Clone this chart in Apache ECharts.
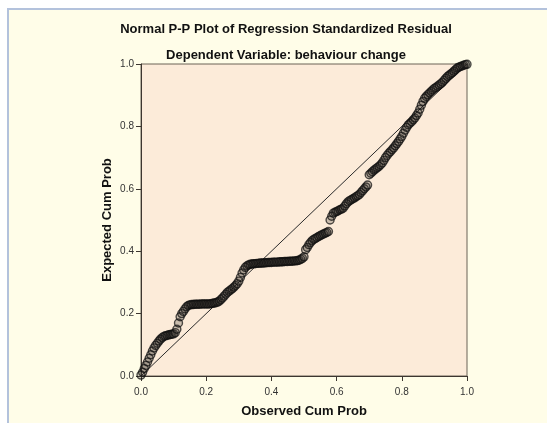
<!DOCTYPE html>
<html>
<head>
<meta charset="utf-8">
<script src="https://cdn.jsdelivr.net/npm/echarts@6/dist/echarts.min.js"></script>
<style>
  html, body { margin: 0; padding: 0; background: #ffffff; }
</style>
</head>
<body>
<div id="main" style="width: 547px;height:423px"></div>
<script>
// observed cum prob (x) and expected cum prob (y)
const observed = [
  0.000, 0.005, 0.010, 0.015, 0.020, 0.025, 0.030, 0.035, 0.040, 0.045,
  0.050, 0.055, 0.060, 0.065, 0.070, 0.075, 0.080, 0.085, 0.090, 0.095,
  0.100, 0.105, 0.110, 0.115, 0.120, 0.125, 0.130, 0.135, 0.140, 0.145,
  0.150, 0.155, 0.160, 0.165, 0.170, 0.175, 0.180, 0.185, 0.190, 0.195,
  0.200, 0.205, 0.210, 0.215, 0.220, 0.225, 0.230, 0.235, 0.240, 0.245,
  0.250, 0.255, 0.260, 0.265, 0.270, 0.275, 0.280, 0.285, 0.290, 0.295,
  0.300, 0.305, 0.310, 0.315, 0.320, 0.325, 0.330, 0.335, 0.340, 0.345,
  0.350, 0.355, 0.360, 0.365, 0.370, 0.375, 0.380, 0.385, 0.390, 0.395,
  0.400, 0.405, 0.410, 0.415, 0.420, 0.425, 0.430, 0.435, 0.440, 0.445,
  0.450, 0.455, 0.460, 0.465, 0.470, 0.475, 0.480, 0.485, 0.490, 0.495,
  0.500, 0.505, 0.510, 0.515, 0.520, 0.525, 0.530, 0.535, 0.540, 0.545,
  0.550, 0.555, 0.560, 0.565, 0.570, 0.575, 0.580, 0.585, 0.590, 0.595,
  0.600, 0.605, 0.610, 0.615, 0.620, 0.625, 0.630, 0.635, 0.640, 0.645,
  0.650, 0.655, 0.660, 0.665, 0.670, 0.675, 0.680, 0.685, 0.690, 0.695,
  0.700, 0.705, 0.710, 0.715, 0.720, 0.725, 0.730, 0.735, 0.740, 0.745,
  0.750, 0.755, 0.760, 0.765, 0.770, 0.775, 0.780, 0.785, 0.790, 0.795,
  0.800, 0.805, 0.810, 0.815, 0.820, 0.825, 0.830, 0.835, 0.840, 0.845,
  0.850, 0.855, 0.860, 0.865, 0.870, 0.875, 0.880, 0.885, 0.890, 0.895,
  0.900, 0.905, 0.910, 0.915, 0.920, 0.925, 0.930, 0.935, 0.940, 0.945,
  0.950, 0.955, 0.960, 0.965, 0.970, 0.975, 0.980, 0.985, 0.990, 0.995,
  1.000
];
const expected = [
  0.003, 0.012, 0.024, 0.034, 0.045, 0.057, 0.068, 0.080, 0.090, 0.098,
  0.105, 0.112, 0.118, 0.123, 0.127, 0.129, 0.130, 0.132, 0.133, 0.134,
  0.135, 0.139, 0.150, 0.170, 0.190, 0.200, 0.207, 0.215, 0.222, 0.226,
  0.228, 0.229, 0.229, 0.230, 0.230, 0.230, 0.230, 0.231, 0.231, 0.231,
  0.231, 0.231, 0.231, 0.232, 0.233, 0.234, 0.235, 0.237, 0.240, 0.245,
  0.250, 0.256, 0.262, 0.268, 0.272, 0.276, 0.280, 0.285, 0.290, 0.296,
  0.304, 0.316, 0.330, 0.340, 0.348, 0.353, 0.356, 0.358, 0.359, 0.360,
  0.360, 0.361, 0.361, 0.362, 0.362, 0.362, 0.363, 0.363, 0.364, 0.364,
  0.364, 0.365, 0.365, 0.365, 0.365, 0.366, 0.366, 0.366, 0.367, 0.367,
  0.367, 0.368, 0.368, 0.368, 0.369, 0.369, 0.370, 0.371, 0.374, 0.377,
  0.382, 0.405, 0.412, 0.421, 0.428, 0.434, 0.438, 0.441, 0.444, 0.447,
  0.450, 0.453, 0.455, 0.458, 0.460, 0.463, 0.500, 0.512, 0.522, 0.525,
  0.527, 0.530, 0.533, 0.535, 0.538, 0.545, 0.552, 0.558, 0.562, 0.565,
  0.568, 0.571, 0.575, 0.578, 0.582, 0.588, 0.594, 0.600, 0.606, 0.612,
  0.645, 0.650, 0.655, 0.660, 0.664, 0.668, 0.672, 0.677, 0.683, 0.691,
  0.700, 0.707, 0.714, 0.719, 0.725, 0.731, 0.738, 0.745, 0.752, 0.760,
  0.768, 0.778, 0.788, 0.797, 0.805, 0.810, 0.815, 0.821, 0.827, 0.835,
  0.843, 0.855, 0.868, 0.880, 0.890, 0.896, 0.902, 0.907, 0.912, 0.917,
  0.922, 0.925, 0.929, 0.933, 0.937, 0.942, 0.948, 0.954, 0.960, 0.964,
  0.968, 0.972, 0.977, 0.982, 0.987, 0.990, 0.992, 0.994, 0.996, 0.998,
  0.999
];
const refLine = [[0, 0], [1, 1]];

let myChart = echarts.init(document.getElementById("main"));
let points = observed.map((x, i) => [x, expected[i]]);

let axisCommon = {
  type: "value",
  min: 0,
  max: 1,
  interval: 0.2,
  nameLocation: "middle",
  nameMoveOverlap: false,
  nameTextStyle: {
    fontFamily: "Liberation Sans",
    fontWeight: "bold",
    fontSize: 13,
    color: "#111"
  },
  axisLine: { show: true, lineStyle: { color: "#3d3630", width: 1 } },
  axisTick: { show: true, length: 5, lineStyle: { color: "#3d3630" } },
  axisLabel: {
    fontFamily: "Liberation Sans",
    fontSize: 10,
    color: "#333",
    margin: 7,
    formatter: v => v.toFixed(1)
  },
  splitLine: { show: false }
};

let option = {
  animation: false,
  backgroundColor: "#ffffff",
  graphic: [
    {
      type: "rect",
      z: -10,
      shape: { x: 8, y: 9, width: 600, height: 500 },
      style: { fill: "#fffde8", stroke: "#b3c2dc", lineWidth: 2 }
    }
  ],
  title: [
    {
      text: "Normal P-P Plot of Regression Standardized Residual",
      left: 281,
      top: 18,
      textAlign: "center",
      textStyle: { fontFamily: "Liberation Sans", fontSize: 13, fontWeight: "bold", color: "#111" }
    },
    {
      text: "Dependent Variable: behaviour change",
      left: 281,
      top: 44,
      textAlign: "center",
      textStyle: { fontFamily: "Liberation Sans", fontSize: 13, fontWeight: "bold", color: "#111" }
    }
  ],
  grid: {
    left: 141,
    top: 64,
    width: 326,
    height: 316,
    show: true,
    backgroundColor: "#fcebd9",
    borderColor: "#6b6257",
    borderWidth: 1
  },
  xAxis: Object.assign({}, axisCommon, {
    name: "Observed Cum Prob",
    nameGap: 29,
    axisLabel: Object.assign({}, axisCommon.axisLabel, { margin: 11 })
  }),
  yAxis: Object.assign({}, axisCommon, {
    name: "Expected Cum Prob",
    nameGap: 27
  }),
  series: [
    {
      type: "line",
      data: refLine,
      symbol: "none",
      lineStyle: { color: "#2a2a2a", width: 1 },
      z: 1
    },
    {
      type: "scatter",
      data: points,
      symbol: "circle",
      symbolSize: 8,
      itemStyle: {
        color: "rgba(50,45,40,0.3)",
        borderColor: "rgba(15,15,15,0.9)",
        borderWidth: 1.4
      },
      z: 2
    }
  ]
};

myChart.setOption(option);
</script>
</body>
</html>
